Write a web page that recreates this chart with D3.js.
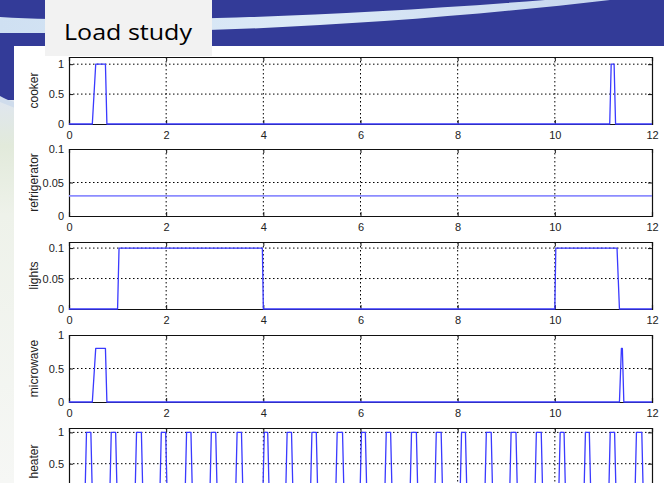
<!DOCTYPE html>
<html><head><meta charset="utf-8">
<script src="https://cdn.jsdelivr.net/npm/d3@7"></script>
<style>body{margin:0;background:#fff}svg{display:block}</style>
</head><body>
<script>
// ---- data ----
const xTicks = [0, 2, 4, 6, 8, 10, 12];
const panelNames = ["cooker", "refrigerator", "lights", "microwave", "heater"];
const yDomains = [[0, 1.12], [0, 0.1], [0, 0.11], [0, 1], [0, 1.07]];
const yTicks = [[0, 0.5, 1], [0, 0.05, 0.1], [0, 0.05, 0.1], [0, 0.5, 1], [0, 0.5, 1]];
const yTickLabels = [["0", "0.5", "1"], ["0", "0.05", "0.1"], ["0", "0.05", "0.1"], ["0", "0.5", "1"], ["0", "0.5", "1"]];

const cookerT = [0, 0.48, 0.55, 0.75, 0.78, 11.13, 11.16, 11.22, 11.25, 12];
const cookerV = [0, 0, 1, 1, 0, 0, 1, 1, 0, 0];
const fridgeT = [0, 12];
const fridgeV = [0.03, 0.03];
const lightsT = [0, 1.0, 1.03, 3.98, 4.0, 10.0, 10.02, 11.28, 11.33, 12];
const lightsV = [0, 0, 0.1, 0.1, 0, 0, 0.1, 0.1, 0, 0];
const microT = [0, 0.48, 0.55, 0.75, 0.78, 11.33, 11.37, 11.39, 11.42, 12];
const microV = [0, 0, 0.8, 0.8, 0, 0, 0.8, 0.8, 0, 0];
const heaterOn  = [0.33, 0.84, 1.36, 1.87, 2.39, 2.90, 3.43, 3.99, 4.46, 4.97, 5.49, 5.99, 6.50, 7.02, 7.53, 8.05, 8.56, 9.07, 9.59, 10.08, 10.60, 11.11, 11.65];
const heaterOff = [0.48, 0.99, 1.52, 2.02, 2.54, 3.05, 3.58, 4.12, 4.61, 5.12, 5.66, 6.13, 6.65, 7.18, 7.69, 8.19, 8.72, 9.23, 9.75, 10.22, 10.74, 11.26, 11.82];
const heaterLevel = 1;

// ---- build point lists ----
const zip = (T, V) => T.map((t, i) => [t, V[i]]);
const heaterPts = [[0, 0]];
heaterOn.forEach((on, i) => {
  const off = heaterOff[i];
  heaterPts.push([on, 0], [on + 0.03, heaterLevel], [off - 0.03, heaterLevel], [off, 0]);
});
heaterPts.push([12, 0]);
const series = [zip(cookerT, cookerV), zip(fridgeT, fridgeV), zip(lightsT, lightsV), zip(microT, microV), heaterPts];

// ---- layout ----
const W = 664, H = 483;
const svg = d3.select("body").append("svg").attr("width", W).attr("height", H);

// background decoration
svg.append("rect").attr("x", 0).attr("y", 0).attr("width", W).attr("height", 47).attr("fill", "#333b98");
svg.append("rect").attr("x", 0).attr("y", 46).attr("width", 15).attr("height", 60).attr("fill", "#333b98");
const defs = svg.append("defs");
const lg = defs.append("linearGradient").attr("id", "leftg").attr("x1", 0).attr("y1", 0).attr("x2", 0).attr("y2", 1);
lg.append("stop").attr("offset", "0").attr("stop-color", "#dfe6ef");
lg.append("stop").attr("offset", "0.12").attr("stop-color", "#e2eadb");
lg.append("stop").attr("offset", "0.3").attr("stop-color", "#eef2ea");
lg.append("stop").attr("offset", "1").attr("stop-color", "#f6f7f5");
svg.append("rect").attr("x", 0).attr("y", 100).attr("width", 15).attr("height", H - 100).attr("fill", "url(#leftg)");
svg.append("path").attr("d", "M0,96 C5,99 10,101 15,102 L15,108 C10,106 5,104 0,102 Z").attr("fill", "#cfdcec");
const sg = defs.append("linearGradient").attr("id", "swg").attr("x1", 0).attr("y1", 0).attr("x2", 1).attr("y2", 0);
sg.append("stop").attr("offset", "0").attr("stop-color", "#cfe0f2");
sg.append("stop").attr("offset", "0.5").attr("stop-color", "#dceaf7");
sg.append("stop").attr("offset", "1").attr("stop-color", "#c6d6ee");
svg.append("path")
  .attr("d", "M0,17 C120,24 330,17 545,0 L610,0 C420,22 230,34 0,33 Z")
  .attr("fill", "url(#swg)");
// white slide panel
svg.append("rect").attr("x", 14).attr("y", 46).attr("width", W - 14).attr("height", H - 46).attr("fill", "#ffffff");
// title box
svg.append("rect").attr("x", 45).attr("y", 0).attr("width", 167).attr("height", 56).attr("fill", "#f2f2f2");
svg.append("text").attr("x", 64).attr("y", 40).attr("font-family", "'Open Sans', sans-serif")
  .attr("font-size", 21).attr("font-weight", 400).attr("fill", "#000").attr("textLength", 128).attr("lengthAdjust", "spacingAndGlyphs")
  .text("Load study");

const left = 69, right = 652, panelH = 67;
const tops = [57, 149, 242, 335, 428];
const x = d3.scaleLinear().domain([0, 12]).range([left, right]);
const font = "'Liberation Sans', Arial, sans-serif";

panelNames.forEach((name, i) => {
  const top = tops[i], bottom = top + panelH;
  const y = d3.scaleLinear().domain(yDomains[i]).range([bottom, top]);
  const g = svg.append("g");
  const lastPanel = i === panelNames.length - 1;

  // grid
  const gx = xTicks.filter(t => x(t) > left + 1 && x(t) < right - 1);
  g.selectAll(".vg").data(gx).join("line")
    .attr("x1", d => x(d)).attr("x2", d => x(d)).attr("y1", top).attr("y2", bottom)
    .attr("stroke", "#000").attr("stroke-width", 1).attr("stroke-dasharray", "1.5,2.5");
  const gy = yTicks[i].filter(t => y(t) > top + 1 && y(t) < bottom - 1);
  g.selectAll(".hg").data(gy).join("line")
    .attr("x1", left).attr("x2", right).attr("y1", d => y(d)).attr("y2", d => y(d))
    .attr("stroke", "#000").attr("stroke-width", 1).attr("stroke-dasharray", "1.5,2.5");

  // axes (inward ticks on all four sides)
  const fmt = (d) => (y(d) > H - 6 ? "" : yTickLabels[i][yTicks[i].indexOf(d)]);
  const ax = [
    g.append("g").attr("transform", `translate(0,${bottom})`).call(d3.axisBottom(x).tickValues(xTicks).tickSize(-4).tickPadding(7)
      .tickFormat(lastPanel ? "" : d3.format("d"))),
    g.append("g").attr("transform", `translate(0,${top})`).call(d3.axisTop(x).tickValues(xTicks).tickSize(-4).tickFormat("")),
    g.append("g").attr("transform", `translate(${left},0)`).call(d3.axisLeft(y).tickValues(yTicks[i]).tickSize(-4).tickPadding(5).tickFormat(fmt)),
    g.append("g").attr("transform", `translate(${right},0)`).call(d3.axisRight(y).tickValues(yTicks[i]).tickSize(-4).tickFormat(""))
  ];
  ax.forEach(a => {
    a.selectAll("path.domain").attr("stroke", "#111").attr("stroke-width", 1.2);
    a.selectAll(".tick line").attr("stroke", "#111");
    a.selectAll("text").attr("font-family", font).attr("font-size", 11).attr("fill", "#222");
  });

  // data line
  g.append("path").datum(series[i])
    .attr("d", d3.line().x(d => x(d[0])).y(d => y(d[1])))
    .attr("fill", "none").attr("stroke", i === 1 ? "#8c8cff" : "#3a3aff")
    .attr("stroke-width", i === 1 ? 1.6 : 1.3).attr("stroke-linejoin", "round");

  // y label
  g.append("text").attr("transform", `translate(38,${(top + bottom) / 2}) rotate(-90)`)
    .attr("text-anchor", "middle").attr("font-family", font).attr("font-size", 12).attr("fill", "#222")
    .text(name);
});
</script>
</body></html>
